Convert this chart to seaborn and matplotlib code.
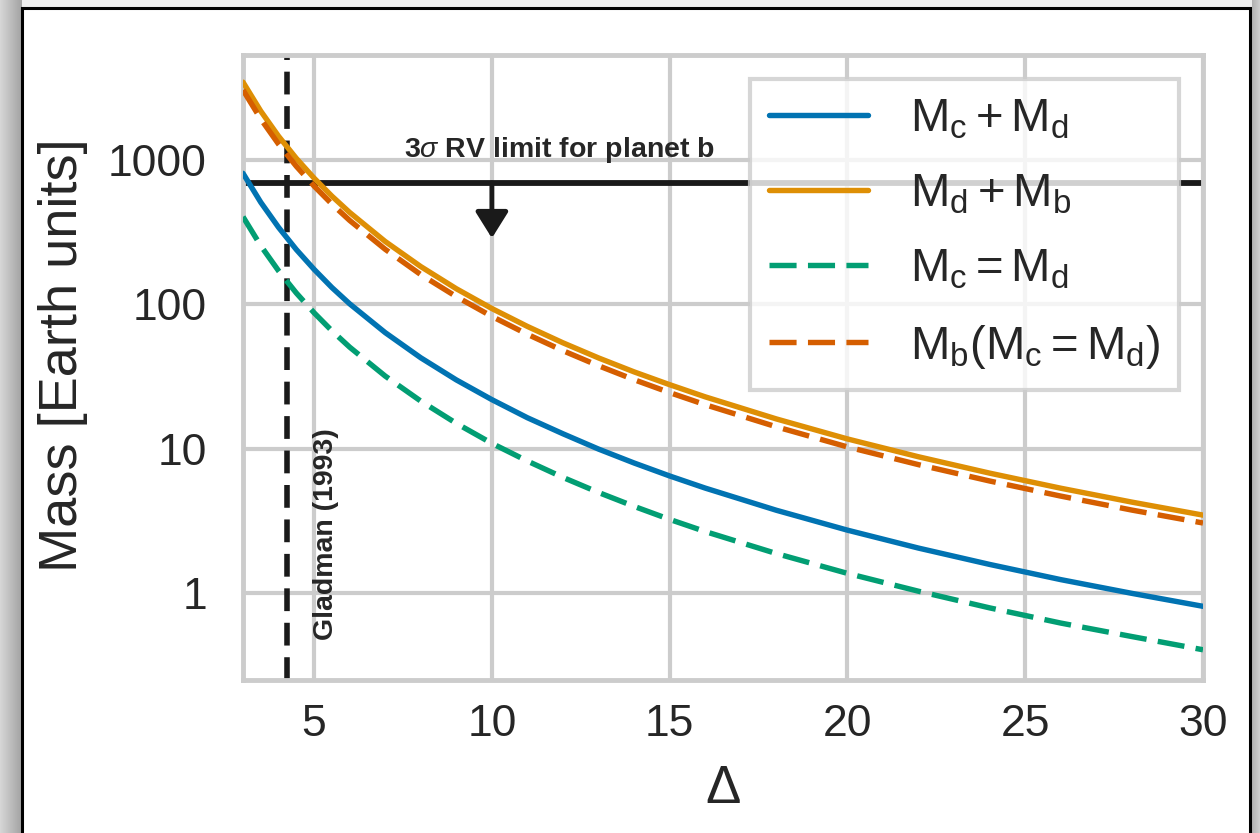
import numpy as np
import matplotlib
matplotlib.use("Agg")
import matplotlib.pyplot as plt
from matplotlib.patches import Rectangle
from matplotlib.ticker import FixedLocator, NullLocator
import seaborn as sns

# Orbital separation in mutual Hill radii
delta = [3, 3.5, 4, 4.5, 5, 5.5, 6, 7, 8, 9, 10, 11, 12, 13, 14, 15, 16, 18, 20,
         22, 24, 26, 28, 30]

# Maximum stable masses [Earth units]
mass_c_plus_d = [810, 510, 342, 240, 175, 131, 101, 63.8, 42.7, 30.0, 21.9, 16.4,
                 12.7, 9.95, 7.97, 6.48, 5.34, 3.75, 2.73, 2.05, 1.58, 1.24,
                 0.996, 0.81]
mass_d_plus_b = [3470, 2185, 1464, 1028, 750, 563, 434, 273, 183, 128.5, 93.7, 70.4,
                 54.2, 42.6, 34.1, 27.8, 22.9, 16.1, 11.7, 8.80, 6.78, 5.33, 4.27,
                 3.47]
mass_c_eq_d = [405, 255, 171, 120, 87.5, 65.7, 50.6, 31.9, 21.4, 15.0, 10.9, 8.22,
               6.33, 4.98, 3.99, 3.24, 2.67, 1.88, 1.37, 1.03, 0.79, 0.62, 0.50,
               0.405]
mass_b_cd_equal = [3060, 1927, 1291, 906, 661, 496, 382, 241, 161, 113.3, 82.6, 62.1,
                   47.8, 37.6, 30.1, 24.5, 20.2, 14.2, 10.3, 7.76, 5.98, 4.70, 3.76,
                   3.06]

series_labels = [r"$M_c + M_d$", r"$M_d + M_b$", r"$M_c = M_d$", r"$M_b(M_c = M_d)$"]

rv_limit_b = 695          # 3-sigma RV upper limit for planet b
gladman_delta = 4.24      # Gladman (1993) stability criterion
arrow_tip = 288

x_ticks = [5, 10, 15, 20, 25, 30]
y_ticks = [1, 10, 100, 1000]
y_tick_labels = ["1", "10", "100", "1000"]

sns.set_theme(style="whitegrid", palette="colorblind")
plt.rcParams["font.family"] = ["Liberation Sans", "DejaVu Sans"]
plt.rcParams["mathtext.fontset"] = "custom"
plt.rcParams["mathtext.rm"] = "Liberation Sans"
plt.rcParams["mathtext.it"] = "Liberation Sans:italic"
plt.rcParams["mathtext.bf"] = "Liberation Sans:bold"
plt.rcParams["mathtext.default"] = "regular"

pal = sns.color_palette("colorblind")
c_blue, c_orange, c_green, c_red = pal[0], pal[1], pal[2], pal[3]

W, H = 1260, 833
fig = plt.figure(figsize=(W / 100, H / 100), dpi=100)
fig.patch.set_facecolor("#eeeeee")

# page shadow behind the framed figure
bg = fig.add_axes([0, 0, 1, 1], zorder=-10)
shade = np.full((H, W), 0.93)
cols = np.arange(W)
lm = cols < 22
shade[:, lm] = 0.84 - 0.20 * (cols[lm] / 21.0)
rm = cols > 1251
shade[:, rm] = 0.70 + 0.12 * ((cols[rm] - 1252) / 8.0)
shade[:8, 22:1252] = 0.93
bg.imshow(np.dstack([shade] * 3), aspect="auto", interpolation="bilinear")
bg.set_axis_off()

frame = Rectangle((22 / W, -0.05), (1250 - 22) / W, 1.05 - 8 / H,
                  transform=fig.transFigure, facecolor="white",
                  edgecolor="black", linewidth=2.2, zorder=-5)
fig.add_artist(frame)

ax = fig.add_axes([243 / W, 1 - 680 / H, (1203 - 243) / W, (680 - 55) / H])
ax.set_facecolor("white")

lw = 3.9
dash = (0, (5.0, 2.1))
sns.lineplot(x=delta, y=mass_c_plus_d, ax=ax, color=c_blue, lw=lw, zorder=3)
sns.lineplot(x=delta, y=mass_d_plus_b, ax=ax, color=c_orange, lw=lw, zorder=3)
sns.lineplot(x=delta, y=mass_c_eq_d, ax=ax, color=c_green, lw=lw, ls=dash, zorder=3)
sns.lineplot(x=delta, y=mass_b_cd_equal, ax=ax, color=c_red, lw=lw, ls=dash, zorder=3)

ax.axhline(rv_limit_b, color="#1a1a1a", lw=4.2, zorder=2)
ax.axvline(gladman_delta, color="#1a1a1a", lw=4.0, ls=(0, (4.1, 2.1)), zorder=2)
ax.annotate("", xy=(10, arrow_tip), xytext=(10, rv_limit_b),
            arrowprops=dict(arrowstyle="-|>,head_length=0.4,head_width=0.25",
                            color="#1a1a1a", lw=3.5, mutation_scale=40,
                            shrinkA=0, shrinkB=0), zorder=2)
ax.text(11.9, 1050, r"3$\mathit{\sigma}$ RV limit for planet b", ha="center",
        va="baseline", fontsize=20.5, fontweight="bold", color="#262626")
ax.text(5.33, 0.47, "Gladman (1993)", rotation=90, ha="center", va="bottom",
        fontsize=20.5, fontweight="bold", color="#262626")

ax.set_yscale("log")
ax.set_xlim(3, 30)
ax.set_ylim(0.25, 5350)
ax.xaxis.set_major_locator(FixedLocator(x_ticks))
ax.yaxis.set_major_locator(FixedLocator(y_ticks))
ax.yaxis.set_minor_locator(NullLocator())
ax.set_yticklabels(y_tick_labels)
ax.tick_params(axis="both", length=0, labelsize=32, colors="#262626")
ax.tick_params(axis="x", pad=17)
ax.tick_params(axis="y", pad=26)
ax.grid(True, which="major", color="#cccccc", lw=3)
for sp in ax.spines.values():
    sp.set_color("#cccccc")
    sp.set_linewidth(3.5)

ax.set_xlabel("Δ", fontsize=38, color="#262626", labelpad=14)
ax.set_ylabel("Mass [Earth units]", fontsize=39, color="#262626")
ax.yaxis.set_label_coords(-0.161, 0.52)

handles = ax.get_lines()[:4]
leg = ax.legend(handles, series_labels, loc="upper right", fontsize=34,
                handlelength=2.1, handletextpad=0.9, labelspacing=0.66,
                borderpad=0.4, fancybox=False, framealpha=0.8,
                edgecolor="#cccccc")
leg.get_frame().set_linewidth(3)
for t in leg.get_texts():
    t.set_color("#262626")

fig.savefig("out.png", dpi=100)
